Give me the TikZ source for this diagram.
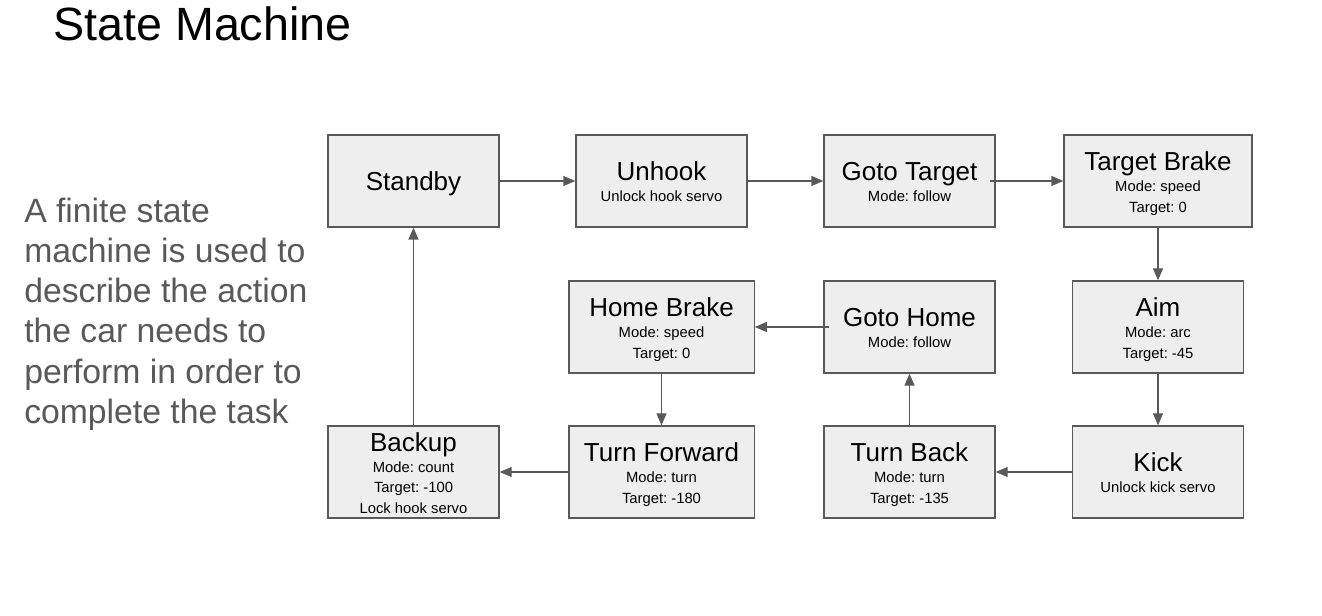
\documentclass[tikz,border=0pt]{standalone}
\usepackage{fontspec}
\setmainfont{Liberation Sans}
\usetikzlibrary{arrows.meta}
\frenchspacing

\definecolor{boxgray}{HTML}{EEEEEE}
\definecolor{linegray}{HTML}{595959}
\newcommand{\sttitle}[1]{{\fontsize{19.5}{22}\selectfont\rule{0pt}{19pt}#1}}

\begin{document}
\begin{tikzpicture}[x=0.75pt,y=-0.75pt,
    state/.style={shape=rectangle,draw=linegray,fill=boxgray,line width=1pt,minimum width=128.25pt,minimum height=69pt,align=center,inner sep=0pt,font=\fontsize{11.1}{15.3}\selectfont,execute at end node={\rule[-3.6pt]{0pt}{0pt}}},
    wide/.style={minimum width=139pt},
    trans/.style={draw=linegray,line width=1pt,-{Triangle[length=9pt,width=7.5pt]}}]
        \useasboundingbox (0,0) rectangle (1322,616);
        \node[anchor=base west,inner sep=0pt,font=\fontsize{35}{40}\selectfont](title) at (53,41) {State Machine};
        \node[anchor=base west,align=left,inner sep=0pt,text=linegray,font=\fontsize{25.3}{30.15}\selectfont](desc) at (24,423.3) {A finite state\\machine is used to\\describe the action\\the car needs to\\perform in order to\\complete the task};
        % top row
        \node[state](standby) at (413.5,181) {\sttitle{Standby}};
        \node[state](unhook) at (661.5,181) {\sttitle{Unhook}\\[0.6pt]Unlock hook servo};
        \node[state](gototarget) at (909.5,181) {\sttitle{Goto Target}\\[0.6pt]Mode: follow};
        \node[state,minimum width=141pt](targetbrake) at (1158,181) {\sttitle{Target Brake}\\[0.6pt]Mode: speed\\Target: 0};
        % middle row
        \node[state](aim) at (1158,327) {\sttitle{Aim}\\[0.6pt]Mode: arc\\Target: -45};
        \node[state](gotohome) at (909.5,327) {\sttitle{Goto Home}\\[0.6pt]Mode: follow};
        \node[state,wide](homebrake) at (661.5,327) {\sttitle{Home Brake}\\[0.6pt]Mode: speed\\Target: 0};
        % bottom row
        \node[state](kick) at (1158,472) {\sttitle{Kick}\\[0.6pt]Unlock kick servo};
        \node[state](turnback) at (909.5,472) {\sttitle{Turn Back}\\[0.6pt]Mode: turn\\Target: -135};
        \node[state,wide](turnforward) at (661.5,472) {\sttitle{Turn Forward}\\[0.6pt]Mode: turn\\Target: -180};
        \node[state](backup) at (413.5,472) {\sttitle{Backup}\\[0.6pt]Mode: count\\Target: -100\\Lock hook servo};

        \draw[trans] (standby) -- (unhook);
        \draw[trans] (unhook) -- (gototarget);
        \draw[trans,shorten <=-4.5pt] (gototarget) -- (targetbrake);
        \draw[trans] (targetbrake) -- (aim);
        \draw[trans] (aim) -- (kick);
        \draw[trans] (kick) -- (turnback);
        \draw[trans] (turnback) -- (gotohome);
        \draw[trans,shorten <=-4.5pt] (gotohome) -- (homebrake);
        \draw[trans] (homebrake) -- (turnforward);
        \draw[trans] (turnforward) -- (backup);
        \draw[trans] (backup) -- (standby);
    \end{tikzpicture}
\end{document}
